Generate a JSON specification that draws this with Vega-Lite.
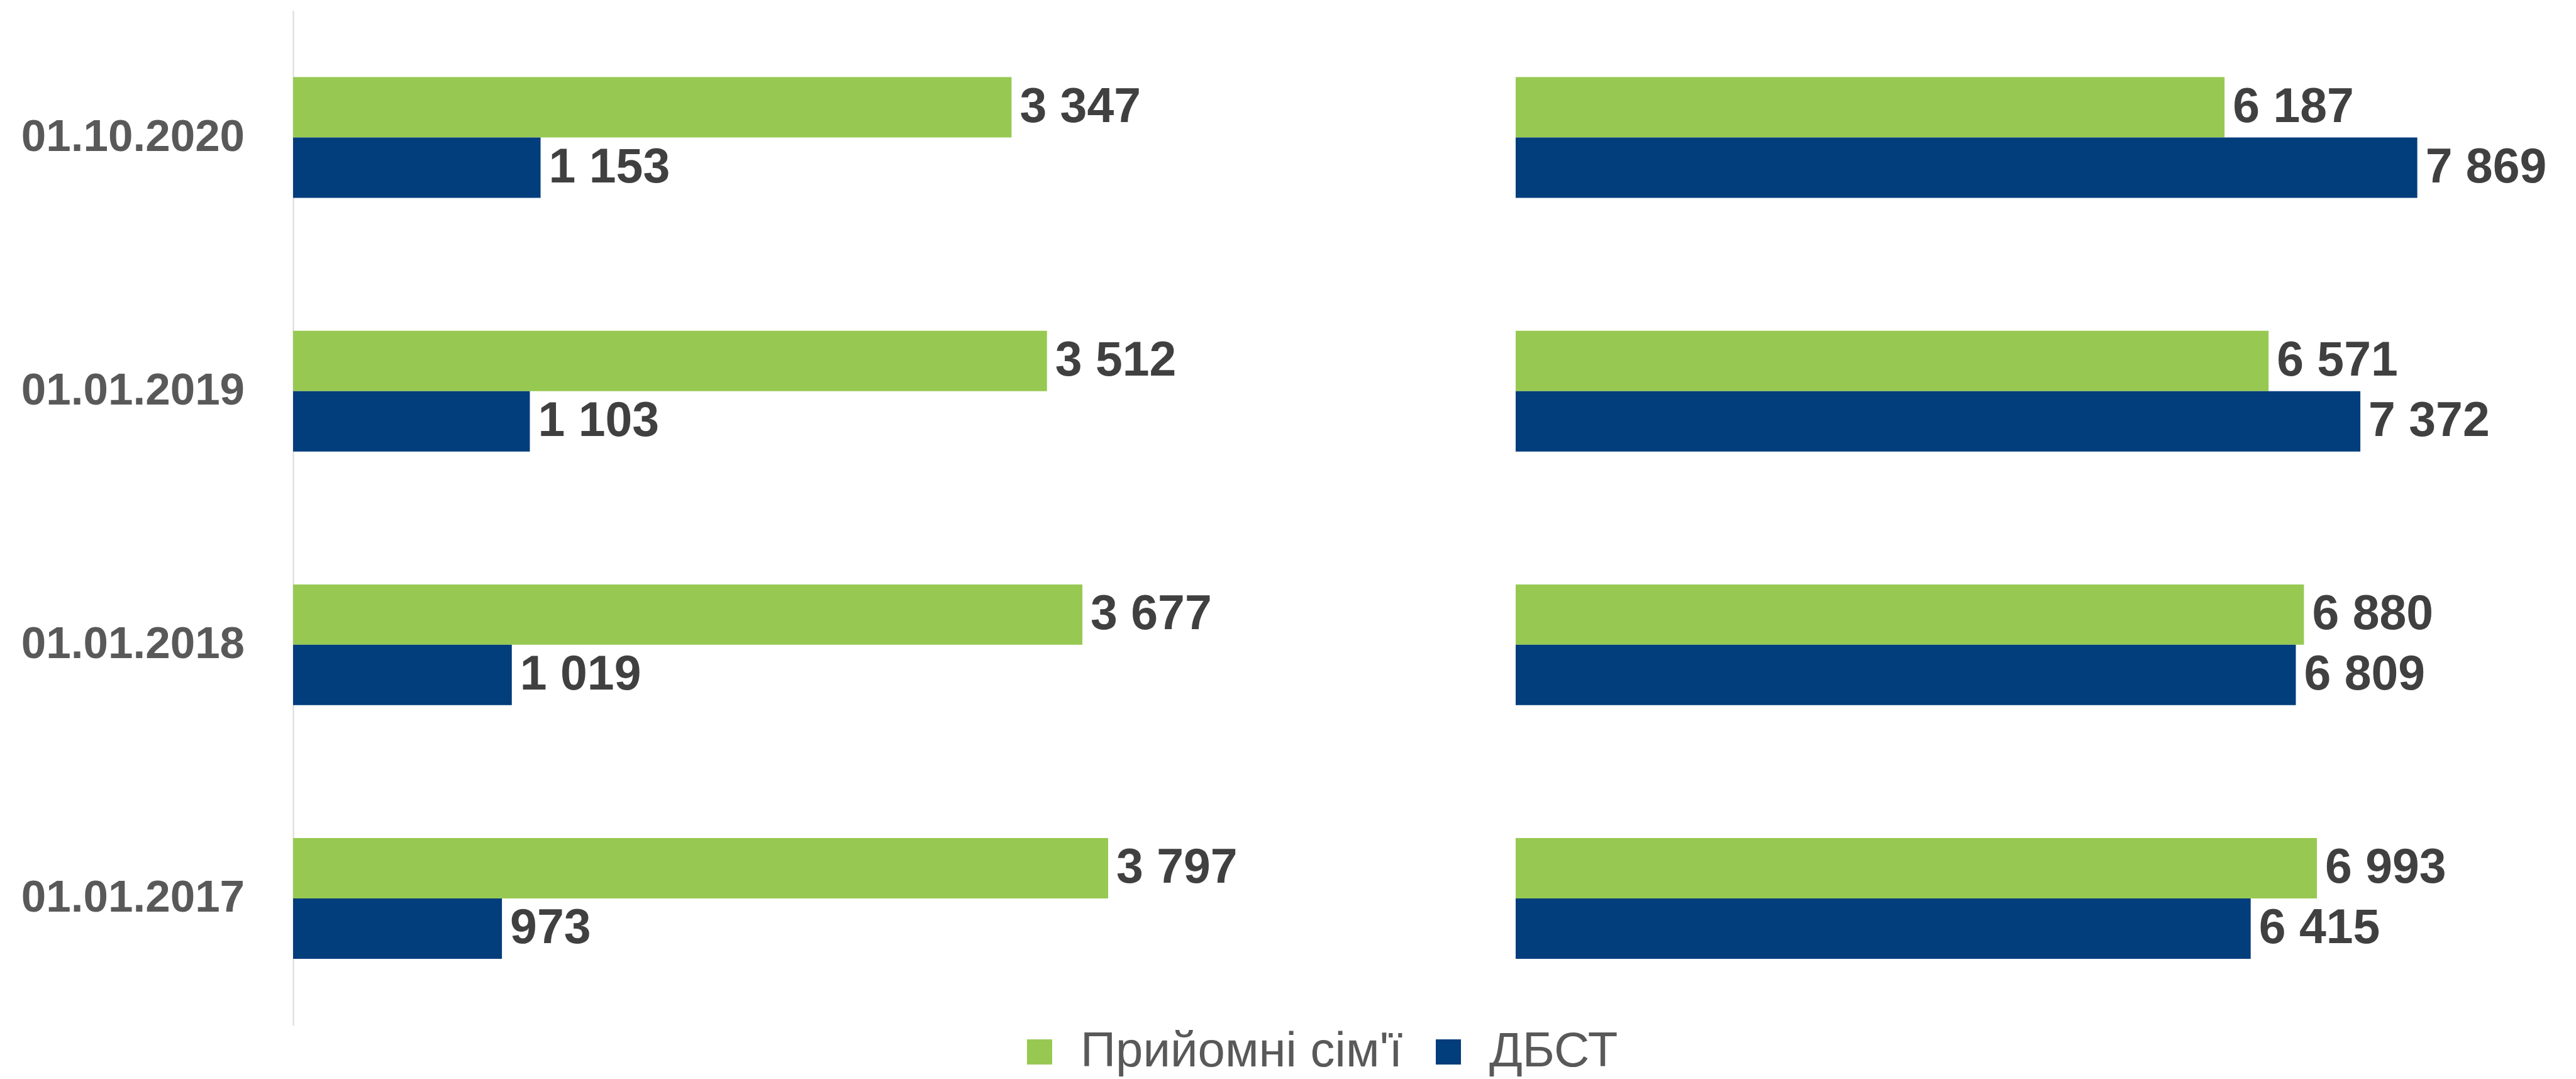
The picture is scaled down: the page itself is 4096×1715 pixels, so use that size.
{
  "$schema": "https://vega.github.io/schema/vega-lite/v6.json",
  "padding": {"left": 33, "top": 17, "right": 0, "bottom": 0},
  "background": "white",
  "bounds": "flush",
  "spacing": 578,
  "config": {
    "locale": {"number": {"decimal": ",", "thousands": " ", "grouping": [3], "currency": ["", ""]}},
    "view": {"stroke": null},
    "font": "Liberation Sans"
  },
  "datasets": {
    "left": [
      {"date": "01.10.2020", "series": "Прийомні сім'ї", "value": 3347},
      {"date": "01.10.2020", "series": "ДБСТ", "value": 1153},
      {"date": "01.01.2019", "series": "Прийомні сім'ї", "value": 3512},
      {"date": "01.01.2019", "series": "ДБСТ", "value": 1103},
      {"date": "01.01.2018", "series": "Прийомні сім'ї", "value": 3677},
      {"date": "01.01.2018", "series": "ДБСТ", "value": 1019},
      {"date": "01.01.2017", "series": "Прийомні сім'ї", "value": 3797},
      {"date": "01.01.2017", "series": "ДБСТ", "value": 973}
    ],
    "right": [
      {"date": "01.10.2020", "series": "Прийомні сім'ї", "value": 6187},
      {"date": "01.10.2020", "series": "ДБСТ", "value": 7869},
      {"date": "01.01.2019", "series": "Прийомні сім'ї", "value": 6571},
      {"date": "01.01.2019", "series": "ДБСТ", "value": 7372},
      {"date": "01.01.2018", "series": "Прийомні сім'ї", "value": 6880},
      {"date": "01.01.2018", "series": "ДБСТ", "value": 6809},
      {"date": "01.01.2017", "series": "Прийомні сім'ї", "value": 6993},
      {"date": "01.01.2017", "series": "ДБСТ", "value": 6415}
    ]
  },
  "hconcat": [
    {
      "width": 1365.3,
      "height": 1612.6,
      "data": {"name": "left"},
      "encoding": {
        "y": {
          "field": "date", "type": "nominal",
          "sort": ["01.10.2020", "01.01.2019", "01.01.2018", "01.01.2017"],
          "scale": {"paddingInner": 0.524, "paddingOuter": 0.262},
          "axis": {"title": null, "domain": true, "domainColor": "#D9D9D9", "domainWidth": 2, "ticks": false, "tickSize": 0, "labelPadding": 77.4, "labelFontSize": 71, "labelFontWeight": "bold", "labelColor": "#595959", "labelFont": "Liberation Sans", "labelLimit": 0}
        },
        "yOffset": {"field": "series", "type": "nominal", "sort": ["Прийомні сім'ї", "ДБСТ"], "scale": {"paddingInner": 0, "paddingOuter": 0}},
        "x": {"field": "value", "type": "quantitative", "scale": {"domain": [0, 4000]}, "axis": null}
      },
      "layer": [
        {
          "mark": {"type": "bar"},
          "encoding": {
            "color": {
              "field": "series", "type": "nominal",
              "scale": {"domain": ["Прийомні сім'ї", "ДБСТ"], "range": ["#97C952", "#023D7C"]},
              "legend": {"title": null, "orient": "none", "legendX": 1148, "legendY": 1616, "direction": "horizontal", "symbolType": "square", "symbolSize": 1600, "symbolStrokeWidth": 0, "labelFontSize": 78, "labelColor": "#595959", "labelFont": "Liberation Sans", "labelOffset": 26, "columnPadding": 33, "padding": 0, "labelLimit": 0}
            }
          }
        },
        {
          "mark": {"type": "text", "align": "left", "baseline": "middle", "dx": 13, "fontSize": 77, "fontWeight": "bold", "color": "#404040", "font": "Liberation Sans"},
          "encoding": {"text": {"field": "value", "type": "quantitative", "format": ",d"}}
        }
      ]
    },
    {
      "width": 1639.7,
      "height": 1612.6,
      "data": {"name": "right"},
      "encoding": {
        "y": {
          "field": "date", "type": "nominal",
          "sort": ["01.10.2020", "01.01.2019", "01.01.2018", "01.01.2017"],
          "scale": {"paddingInner": 0.524, "paddingOuter": 0.262},
          "axis": null
        },
        "yOffset": {"field": "series", "type": "nominal", "sort": ["Прийомні сім'ї", "ДБСТ"], "scale": {"paddingInner": 0, "paddingOuter": 0}},
        "x": {"field": "value", "type": "quantitative", "scale": {"domain": [0, 9000]}, "axis": null}
      },
      "layer": [
        {
          "mark": {"type": "bar"},
          "encoding": {
            "color": {
              "field": "series", "type": "nominal",
              "scale": {"domain": ["Прийомні сім'ї", "ДБСТ"], "range": ["#97C952", "#023D7C"]},
              "legend": {"title": null, "orient": "none", "legendX": 1148, "legendY": 1616, "direction": "horizontal", "symbolType": "square", "symbolSize": 1600, "symbolStrokeWidth": 0, "labelFontSize": 78, "labelColor": "#595959", "labelFont": "Liberation Sans", "labelOffset": 26, "columnPadding": 33, "padding": 0, "labelLimit": 0}
            }
          }
        },
        {
          "mark": {"type": "text", "align": "left", "baseline": "middle", "dx": 13, "fontSize": 77, "fontWeight": "bold", "color": "#404040", "font": "Liberation Sans"},
          "encoding": {"text": {"field": "value", "type": "quantitative", "format": ",d"}}
        }
      ]
    }
  ],
  "resolve": {"scale": {"x": "independent"}}
}
